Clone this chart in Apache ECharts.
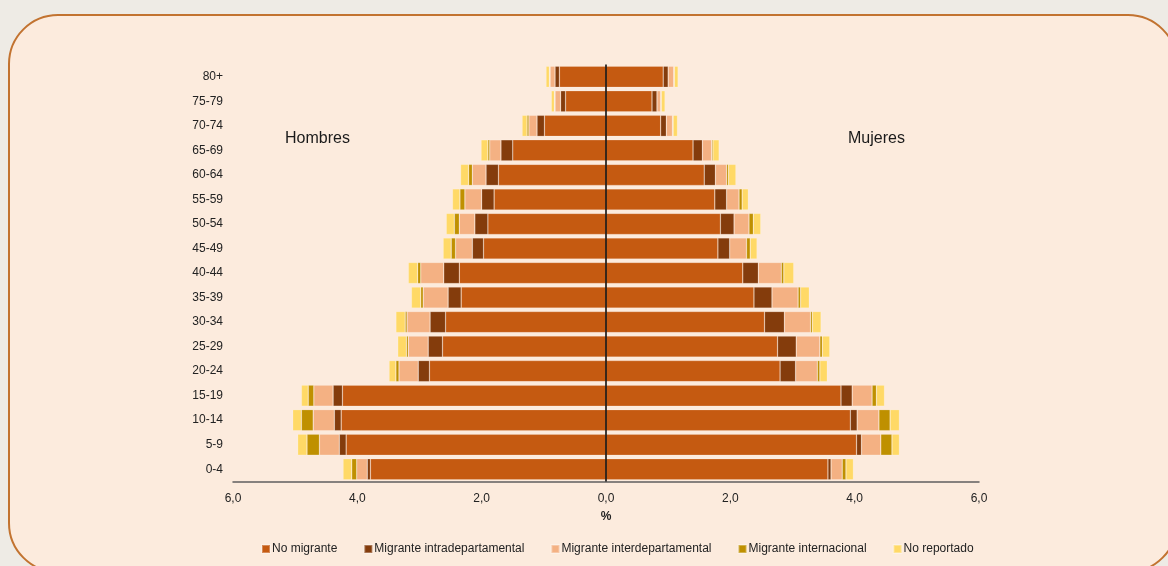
<!DOCTYPE html>
<html>
<head>
<meta charset="utf-8">
<script src="https://cdn.jsdelivr.net/npm/echarts@6/dist/echarts.min.js"></script>
<style>
html,body{margin:0;padding:0;background:#eeebe5;width:1168px;height:566px;overflow:hidden;}
#box{position:absolute;left:8px;top:14px;width:1166px;height:555px;border:2.5px solid #c27330;border-radius:50px;background:#fcebdd;}
#chart{position:absolute;left:0;top:0;width:1168px;height:566px;}
</style>
</head>
<body>
<div id="box"></div>
<div id="chart"></div>
<script>
// Age groups, bottom to top
const categories = ['0-4','5-9','10-14','15-19','20-24','25-29','30-34','35-39','40-44','45-49','50-54','55-59','60-64','65-69','70-74','75-79','80+'];
const seriesNames = ['No migrante','Migrante intradepartamental','Migrante interdepartamental','Migrante internacional','No reportado'];
const colors = ['#c55a11','#843c0c','#f4b183','#bf9000','#ffd966'];

// Hombres (%)
const menNoMigrante = [3.79,4.18,4.26,4.24,2.84,2.63,2.58,2.33,2.36,1.97,1.90,1.80,1.73,1.50,0.99,0.65,0.75];
const menIntra      = [0.05,0.11,0.11,0.15,0.18,0.23,0.25,0.21,0.25,0.18,0.21,0.20,0.20,0.19,0.12,0.08,0.07];
const menInter      = [0.17,0.32,0.34,0.31,0.31,0.32,0.37,0.40,0.37,0.27,0.25,0.27,0.22,0.18,0.13,0.09,0.08];
const menIntl       = [0.08,0.20,0.19,0.09,0.05,0.03,0.03,0.04,0.05,0.07,0.08,0.08,0.06,0.03,0.03,0.01,0.01];
const menNR         = [0.14,0.15,0.14,0.11,0.11,0.14,0.15,0.15,0.15,0.13,0.13,0.12,0.13,0.11,0.08,0.05,0.055];

// Mujeres (%)
const womenNoMigrante = [3.57,4.03,3.93,3.78,2.80,2.76,2.55,2.38,2.20,1.80,1.84,1.75,1.58,1.40,0.88,0.74,0.92];
const womenIntra      = [0.05,0.08,0.11,0.18,0.25,0.30,0.32,0.29,0.25,0.19,0.22,0.19,0.18,0.15,0.09,0.08,0.08];
const womenInter      = [0.18,0.31,0.35,0.32,0.35,0.38,0.42,0.42,0.37,0.27,0.24,0.20,0.18,0.15,0.10,0.06,0.09];
const womenIntl       = [0.06,0.18,0.18,0.07,0.04,0.04,0.03,0.04,0.04,0.06,0.07,0.05,0.03,0.02,0.01,0.01,0.01];
const womenNR         = [0.12,0.12,0.15,0.13,0.12,0.12,0.14,0.14,0.16,0.11,0.12,0.10,0.12,0.10,0.07,0.06,0.06];

const xTicks = {min:-6, max:6, interval:2};

const menData = [menNoMigrante, menIntra, menInter, menIntl, menNR];
const womenData = [womenNoMigrante, womenIntra, womenInter, womenIntl, womenNR];

const font = '"Liberation Sans", Arial, sans-serif';
const series = [];
seriesNames.forEach((name, i) => {
  series.push({
    name: name, type: 'bar', stack: 'pop', barCategoryGap: '14%',
    itemStyle: {color: colors[i], borderColor: 'rgba(255,255,255,0.3)', borderWidth: 0.6},
    data: menData[i].map(v => -v),
    silent: true
  });
});
seriesNames.forEach((name, i) => {
  const s = {
    name: name, type: 'bar', stack: 'pop', barCategoryGap: '14%',
    itemStyle: {color: colors[i], borderColor: 'rgba(255,255,255,0.3)', borderWidth: 0.6},
    data: womenData[i].slice(),
    silent: true
  };
  if (i === 0) {
    s.markLine = {silent: true, symbol: 'none', label: {show: false},
      lineStyle: {color: '#000', width: 1.5, type: 'solid'},
      data: [{xAxis: 0}]};
  }
  series.push(s);
});

const chart = echarts.init(document.getElementById('chart'), null, {renderer: 'canvas'});
chart.setOption({
  animation: false,
  textStyle: {fontFamily: font},
  grid: {left: 233, right: 189, top: 64.5, bottom: 84.5, containLabel: false},
  xAxis: {
    type: 'value', min: xTicks.min, max: xTicks.max, interval: xTicks.interval,
    name: '%', nameLocation: 'middle', nameGap: 29,
    nameTextStyle: {fontWeight: 'bold', fontSize: 12, color: '#222', fontFamily: font},
    axisLine: {show: true, lineStyle: {color: '#5f5f5f', width: 1.5}},
    axisTick: {show: false},
    splitLine: {show: false},
    axisLabel: {margin: 11, fontSize: 12, color: '#222', fontFamily: font,
      formatter: v => Math.abs(v).toFixed(1).replace('.', ',')}
  },
  yAxis: {
    type: 'category', data: categories,
    axisLine: {show: false, onZero: false},
    axisTick: {show: false},
    axisLabel: {margin: 10, fontSize: 12, color: '#222', fontFamily: font}
  },
  legend: {
    data: seriesNames, bottom: 6, left: 256,
    itemWidth: 8, itemHeight: 8, itemGap: 26, icon: 'rect',
    textStyle: {fontSize: 12, color: '#222', fontFamily: font, padding: [0,0,0,-3]}
  },
  graphic: [
    {type: 'text', left: 285, top: 131, style: {text: 'Hombres', fontSize: 16, fill: '#1a1a1a', fontFamily: font}},
    {type: 'text', left: 848, top: 131, style: {text: 'Mujeres', fontSize: 16, fill: '#1a1a1a', fontFamily: font}}
  ],
  series: series
});
</script>
</body>
</html>
